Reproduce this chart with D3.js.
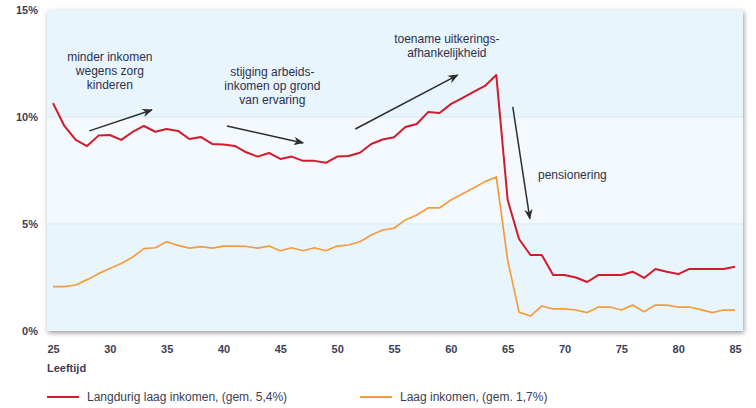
<html>
<script src="https://d3js.org/d3.v7.min.js"></script>
<style>
  body { margin: 0; background: #fff; }
  text { font-family: "Liberation Sans", Arial, sans-serif; }
</style>
<body>
<div id="chart"></div>
<script>
  // leeftijd 25..85
  var ages = d3.range(25, 86);
  var langdurig = [10.65, 9.58, 8.93, 8.64, 9.13, 9.16, 8.93, 9.3, 9.58, 9.31,
    9.44, 9.35, 8.97, 9.07, 8.74, 8.72, 8.65, 8.35, 8.15, 8.32,
    8.04, 8.15, 7.95, 7.95, 7.86, 8.15, 8.18, 8.33, 8.74, 8.95,
    9.05, 9.53, 9.67, 10.23, 10.19, 10.6, 10.88, 11.17, 11.45, 11.96,
    6.12, 4.3, 3.55, 3.55, 2.62, 2.62, 2.5, 2.29, 2.62, 2.62,
    2.62, 2.77, 2.48, 2.9, 2.77, 2.66, 2.9, 2.9, 2.9, 2.9, 3.0];
  var laag = [2.07, 2.07, 2.15, 2.4, 2.68, 2.92, 3.15, 3.45, 3.85, 3.89,
    4.17, 4.0, 3.87, 3.94, 3.87, 3.97, 3.97, 3.95, 3.87, 3.97,
    3.75, 3.89, 3.75, 3.89, 3.75, 3.97, 4.02, 4.17, 4.49, 4.72,
    4.8, 5.19, 5.42, 5.75, 5.75, 6.12, 6.4, 6.68, 6.98, 7.2,
    3.3, 0.88, 0.7, 1.17, 1.03, 1.03, 0.98, 0.86, 1.12, 1.12,
    0.98, 1.21, 0.9, 1.21, 1.21, 1.12, 1.12, 1.0, 0.86, 0.98, 0.98];
  var xTicks = [25, 30, 35, 40, 45, 50, 55, 60, 65, 70, 75, 80, 85];
  var yTicks = [0, 5, 10, 15];

  var series = [
    { name: "Langdurig laag inkomen, (gem. 5,4%)", values: langdurig, color: "#d3192c", w: 2 },
    { name: "Laag inkomen, (gem. 1,7%)", values: laag, color: "#f59b3e", w: 1.7 }
  ];

  // annotaties in data-coordinaten (leeftijd, %)
  var notes = [
    { lines: ["minder inkomen", "wegens zorg", "kinderen"], x: 30.0, y: 12.62, anchor: "middle",
      arrow: [[28.2, 9.35], [33.7, 10.33]] },
    { lines: ["stijging arbeids-", "inkomen op grond", "van ervaring"], x: 44.3, y: 11.92, anchor: "middle",
      arrow: [[40.3, 9.58], [47.0, 8.79]] },
    { lines: ["toename uitkerings-", "afhankelijkheid"], x: 59.65, y: 13.46, anchor: "middle",
      arrow: [[51.6, 9.44], [60.6, 11.96]] },
    { lines: ["pensionering"], x: 67.67, y: 7.1, anchor: "start",
      arrow: [[65.45, 10.47], [66.95, 5.25]] }
  ];

  var W = 756, H = 408;
  var svg = d3.select("#chart").append("svg").attr("width", W).attr("height", H);

  var x = d3.scaleLinear().domain([25, 85]).range([53, 735]);
  var y = d3.scaleLinear().domain([0, 15]).range([331, 10]);
  var panelL = 47, panelR = 743;

  var defs = svg.append("defs");
  defs.append("filter").attr("id", "shadow")
    .attr("x", "-5%").attr("y", "-5%").attr("width", "115%").attr("height", "120%")
    .append("feDropShadow")
    .attr("dx", 1).attr("dy", 2).attr("stdDeviation", 2.5)
    .attr("flood-color", "#000").attr("flood-opacity", 0.4);
  defs.append("marker").attr("id", "arrow")
    .attr("viewBox", "0 0 10 10").attr("refX", 9).attr("refY", 5)
    .attr("markerWidth", 7).attr("markerHeight", 7).attr("orient", "auto")
    .append("path").attr("d", "M0,1 L10,5 L0,9 L3,5 Z").attr("fill", "#2d2d2d");

  // achtergrondbanden
  var bands = [[10, 15, "#e9f5fc"], [5, 10, "#f3f9fd"], [0, 5, "#e9f5fc"]];
  var panel = svg.append("g").attr("filter", "url(#shadow)");
  panel.selectAll("rect").data(bands).enter().append("rect")
    .attr("x", panelL).attr("width", panelR - panelL)
    .attr("y", d => y(d[1])).attr("height", d => y(d[0]) - y(d[1]))
    .attr("fill", d => d[2]);
  svg.selectAll(".bandline").data([5, 10]).enter().append("line")
    .attr("x1", panelL).attr("x2", panelR)
    .attr("y1", d => y(d)).attr("y2", d => y(d))
    .attr("stroke", "#dcedf7").attr("stroke-width", 1.5);

  // assen
  var yAxis = svg.append("g").attr("transform", "translate(38,0)")
    .call(d3.axisLeft(y).tickValues(yTicks).tickSize(0).tickFormat(d => d + "%"));
  yAxis.select(".domain").remove();
  yAxis.selectAll("text").attr("x", 0).attr("dy", "0.35em")
    .style("font-size", "11px").style("font-weight", "bold").attr("fill", "#3d3d55");

  var xAxis = svg.append("g").attr("transform", "translate(0,345)")
    .call(d3.axisBottom(x).tickValues(xTicks).tickSize(0));
  xAxis.select(".domain").remove();
  xAxis.selectAll("text").attr("y", 0).attr("dy", "0.71em")
    .style("font-size", "11px").style("font-weight", "bold").attr("fill", "#3d3d55");

  svg.append("text").attr("x", 47).attr("y", 372).text("Leeftijd")
    .style("font-size", "11px").style("font-weight", "bold").attr("fill", "#3d3d55");

  // lijnen
  var line = d3.line().x((d, i) => x(ages[i])).y(d => y(d));
  svg.selectAll(".serie").data(series.slice().reverse()).enter().append("path")
    .attr("class", "serie")
    .attr("d", d => line(d.values))
    .attr("fill", "none").attr("stroke", d => d.color).attr("stroke-width", d => d.w)
    .attr("stroke-linejoin", "round");

  // annotaties
  var ng = svg.selectAll(".note").data(notes).enter().append("g").attr("class", "note");
  ng.append("line")
    .attr("x1", d => x(d.arrow[0][0])).attr("y1", d => y(d.arrow[0][1]))
    .attr("x2", d => x(d.arrow[1][0])).attr("y2", d => y(d.arrow[1][1]))
    .attr("stroke", "#2d2d2d").attr("stroke-width", 1.5).attr("marker-end", "url(#arrow)");
  ng.each(function (d) {
    var t = d3.select(this).append("text")
      .attr("text-anchor", d.anchor).attr("fill", "#2c2f4f")
      .style("font-size", "12px");
    d.lines.forEach(function (l, i) {
      t.append("tspan").attr("x", x(d.x)).attr("y", y(d.y) + i * 14).text(l);
    });
  });

  // legenda
  var legX = [47, 360];
  var lg = svg.selectAll(".leg").data(series).enter().append("g").attr("class", "leg")
    .attr("transform", (d, i) => "translate(" + legX[i] + ",397)");
  lg.append("line").attr("x1", 0).attr("x2", 32).attr("stroke", d => d.color).attr("stroke-width", 2);
  lg.append("text").attr("x", 40).attr("y", 4).text(d => d.name)
    .style("font-size", "12px").attr("fill", "#3d3d55");
</script>
</body>
</html>
